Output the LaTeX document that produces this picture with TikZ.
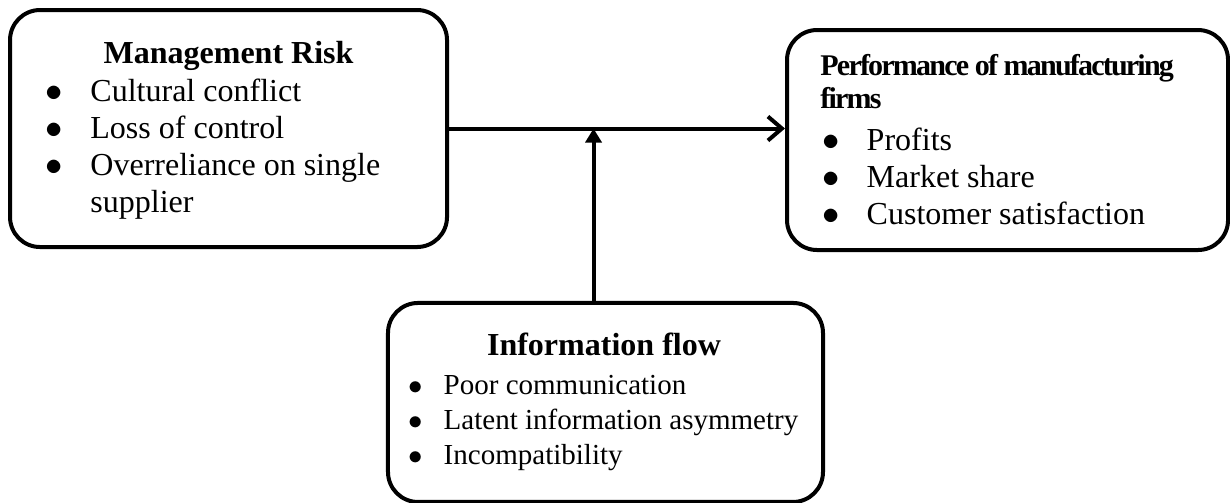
\documentclass[tikz,border=0pt]{standalone}
\usepackage{fontspec}
\setmainfont{Liberation Serif}
\usetikzlibrary{arrows.meta}

\begin{document}
\begin{tikzpicture}[box/.style={draw, line width=2pt, rounded corners=15pt, inner sep=0pt},
  txt/.style={inner sep=0pt, font=\fontsize{16}{18.4}\selectfont},
  link/.style={line width=2pt}]
\useasboundingbox (0,0) rectangle (21.6,-8.833);
\node[box, minimum width=7.674cm, minimum height=4.162cm] (mgmt) at (4.013,-2.257) {};
\node[box, minimum width=7.745cm, minimum height=3.863cm] (perf) at (17.693,-2.459) {};
\node[box, minimum width=7.639cm, minimum height=3.495cm] (info) at (10.633,-7.068) {};
\node[txt, anchor=base] (mgmttitle) at (4.013,-1.12) {\textbf{Management Risk}};
\node[txt, anchor=base west] (mgmtlist) at (0.79,-1.79) {\begin{tabular}[t]{@{}p{22.5pt}@{}l@{}}$\bullet$ & Cultural conflict\\ $\bullet$ & Loss of control\\ $\bullet$ & Overreliance on single\\ & supplier\end{tabular}};
\node[anchor=base west, inner sep=0pt, font=\fontsize{15}{16.5}\selectfont\bfseries\addfontfeatures{LetterSpace=-6}] (perftitle) at (14.40,-1.33) {\begin{tabular}[t]{@{}l@{}}Performance of manufacturing\\ firms\end{tabular}};
\node[txt, anchor=base west] (perflist) at (14.44,-2.65) {\begin{tabular}[t]{@{}p{22pt}@{}l@{}}$\bullet$ & Profits\\ $\bullet$ & Market share\\ $\bullet$ & Customer satisfaction\end{tabular}};
\node[txt, anchor=base] (infotitle) at (10.607,-6.25) {\textbf{Information flow}};
\node[anchor=base west, inner sep=0pt, font=\fontsize{14.5}{17.6}\selectfont] (infolist) at (7.17,-6.92) {\begin{tabular}[t]{@{}p{17.5pt}@{}l@{}}$\bullet$ & Poor communication\\ $\bullet$ & Latent information asymmetry\\ $\bullet$ & Incompatibility\end{tabular}};
\coordinate (foot) at ([xshift=-0.21cm]info.north);
\coordinate (join) at (foot |- mgmt.east);
\draw[link, -{Straight Barb[length=7pt,width=12pt]}] (mgmt.east) -- (mgmt.east -| perf.west);
\draw[link, -{Triangle[length=7pt,width=8pt]}] (foot) -- (join);
\end{tikzpicture}
\end{document}
